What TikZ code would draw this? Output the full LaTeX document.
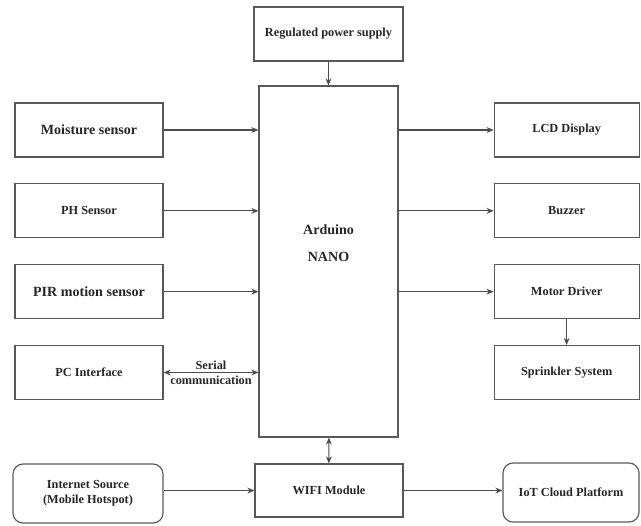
\documentclass[tikz,border=0pt]{standalone}
\usepackage{fontspec}
\setmainfont{Liberation Serif}
\usetikzlibrary{arrows.meta, positioning}

\begin{document}
\begin{tikzpicture}[
        box/.style={draw=black!65, line width=1pt, minimum width=4.44cm, minimum height=1.62cm, align=center, text=black!85, font=\bfseries\fontsize{10.5}{12.6}\selectfont},
        bigbox/.style={box, font=\bfseries\fontsize{12}{14}\selectfont},
        sidebox/.style={box, minimum width=4.35cm},
        roundbox/.style={box, rounded corners=0.3cm, minimum height=1.77cm},
        arrow/.style={-{Stealth[length=6pt, width=5pt]}, draw=black!70, line width=0.9pt},
        dblarrow/.style={{Stealth[length=6pt, width=5pt]}-{Stealth[length=6pt, width=5pt]}, draw=black!70, line width=0.9pt},
        node distance=0.77cm
    ]
    \useasboundingbox (0,0) rectangle (19.23,-15.75);

    % Controller and supply
    \node[box, minimum width=4.17cm, minimum height=10.53cm] (ardu) at (9.855,-7.845) {};
    \node[text=black!85, align=center, font=\bfseries\fontsize{12}{14}\selectfont] (arduTxt) at ([yshift=0.54cm]ardu.center) {Arduino\\[9pt]NANO};
    \node[box, minimum width=4.47cm] (psu) at (9.855,-1.02) {Regulated power supply};

    % Inputs
    \node[bigbox] (moist) at (2.67,-3.9) {Moisture sensor};
    \node[box, below=of moist] (ph) {PH Sensor};
    \node[bigbox, below=of ph] (pir) {PIR motion sensor};
    \node[box, below=of pir] (pc) {PC Interface};

    % Outputs
    \node[sidebox] (lcd) at (17.0,-3.9) {LCD Display};
    \node[sidebox, below=of lcd] (buzz) {Buzzer};
    \node[sidebox, below=of buzz] (motor) {Motor Driver};
    \node[sidebox, below=of motor] (sprink) {Sprinkler System};

    % Network
    \node[box, minimum height=1.59cm] (wifi) at (9.87,-14.715) {WIFI Module};
    \node[roundbox, minimum width=4.5cm] (inet) at (2.64,-14.805) {Internet Source\\(Mobile Hotspot)};
    \node[roundbox, minimum width=4.08cm] (iot) at (17.13,-14.775) {IoT Cloud Platform};

    % Arrows
    \draw[arrow] (psu) -- (ardu);
    \draw[arrow] (moist) -- (moist -| ardu.west);
    \draw[arrow] (ph) -- (ph -| ardu.west);
    \draw[arrow] (pir) -- (pir -| ardu.west);
    \draw[dblarrow] (pc) -- node[text=black!85, align=center, inner sep=0pt, font=\bfseries\fontsize{10.5}{13}\selectfont] (serial) {Serial\\communication} (pc -| ardu.west);
    \draw[arrow] (ardu.east |- lcd) -- (lcd);
    \draw[arrow] (ardu.east |- buzz) -- (buzz);
    \draw[arrow] (ardu.east |- motor) -- (motor);
    \draw[arrow] (motor) -- (sprink);
    \draw[dblarrow] (ardu) -- (wifi);
    \draw[arrow] (inet.east |- wifi) -- (wifi);
    \draw[arrow] (wifi) -- (wifi -| iot.west);

\end{tikzpicture}
\end{document}
